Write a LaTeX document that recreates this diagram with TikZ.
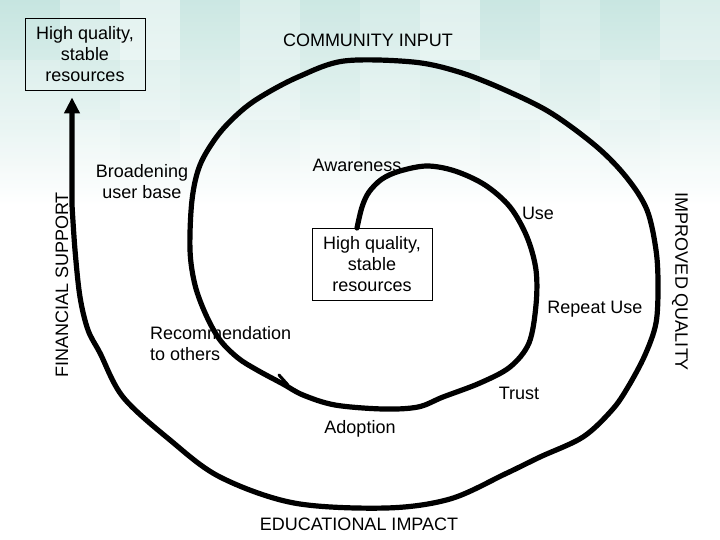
\documentclass[tikz,border=0pt]{standalone}
\usepackage{fontspec}
\setmainfont{Liberation Sans}
\usetikzlibrary{arrows.meta}
\definecolor{bgteal}{RGB}{198,229,224}
\begin{document}
\begin{tikzpicture}[x=1pt,y=-1pt,
  lbl/.style={font=\fontsize{18}{21}\selectfont, inner sep=0pt, align=center},
  boxnode/.style={draw, line width=0.8pt, minimum width=120pt, minimum height=72pt,
    inner sep=0pt, align=center, font=\fontsize{18}{21}\selectfont},
  spiral/.style={line width=5.2pt, line join=round, line cap=round}]
\useasboundingbox (0,0) rectangle (720,540);
% background
\fill[top color=bgteal, bottom color=white, middle color=bgteal!55] (0,0) rectangle (720,205);
\foreach \c/\o in {0/0.0,1/0.3,2/0.5,3/0.1,4/0.35,5/0.12,6/0.25,7/0.45,8/0.08,9/0.25,10/0.05,11/0.35}
  \fill[white, opacity=\o] (\c*60,0) rectangle ++(60,60);
\foreach \c/\o in {0/0.2,1/0.08,2/0.3,3/0.15,4/0.3,5/0.08,6/0.25,7/0.15,8/0.3,9/0.1,10/0.25,11/0.08}
  \fill[white, opacity=\o] (\c*60,60) rectangle ++(60,60);
\foreach \c/\o in {0/0.12,1/0.25,2/0.08,3/0.3,4/0.12,5/0.28,6/0.1,7/0.25,8/0.12,9/0.3,10/0.08,11/0.2}
  \fill[white, opacity=\o] (\c*60,120) rectangle ++(60,60);
% boxes
\node[boxnode] (topbox) at (85,54) {High quality,\\stable\\resources};
\node[boxnode, fill=white] (inner) at (372,264) {High quality,\\stable\\resources};
% labels
\node[lbl] (ci) at (368,40) {COMMUNITY INPUT};
\node[lbl] (bub) at (142,182) {Broadening\\user base};
\node[lbl] (aw) at (357,165) {Awareness};
\node[lbl] (use) at (538,213) {Use};
\node[lbl] (ru) at (595,309) {Repeat Use};
\node[lbl, anchor=west, align=left] (rec) at (150,344) {Recommendation\\to others};
\node[lbl] (tr) at (519,393) {Trust};
\node[lbl] (ad) at (360,429) {Adoption};
\node[lbl] (ei) at (359,524) {EDUCATIONAL IMPACT};
\node[lbl, rotate=90] (fsl) at (62,285) {FINANCIAL SUPPORT};
\node[lbl, rotate=-90] (iq) at (680,282) {IMPROVED QUALITY};
% spiral
\coordinate (sstart) at (357,228);
\coordinate (fs) at (72,205);
\draw[spiral, -{Triangle[width=15pt,length=16pt]}, shorten >=7pt]
  plot[smooth, tension=0.55] coordinates {(sstart) (362,207) (369,192) (382,179) (400,171)
  (427,166) (455,171) (485,185) (510,207) (527,237) (536,270) (536,305) (529,343)
  (510,367) (480,383) (443,397) (418,407) (383,409) (335,405) (303,395) (283,384)
  (257,370) (238,358) (220,340) (206,315) (195,285) (190,250) (192,200) (200,165)
  (218,135) (240,112) (262,96) (298,77) (344,61) (413,62) (459,72) (505,90) (551,113)
  (597,147) (627,178) (647,210) (656,250) (658,285) (656,323) (645,355) (628,387)
  (612,410) (583,437) (540,457) (505,474) (450,499) (386,508) (294,503) (220,477)
  (170,440) (123,397) (100,353) (88,330) (80,297) (75,250) (fs)}
  -- (fs |- topbox.south);
\draw[line width=3pt, line cap=round] (279,375) -- (288,385);
\end{tikzpicture}
\end{document}
